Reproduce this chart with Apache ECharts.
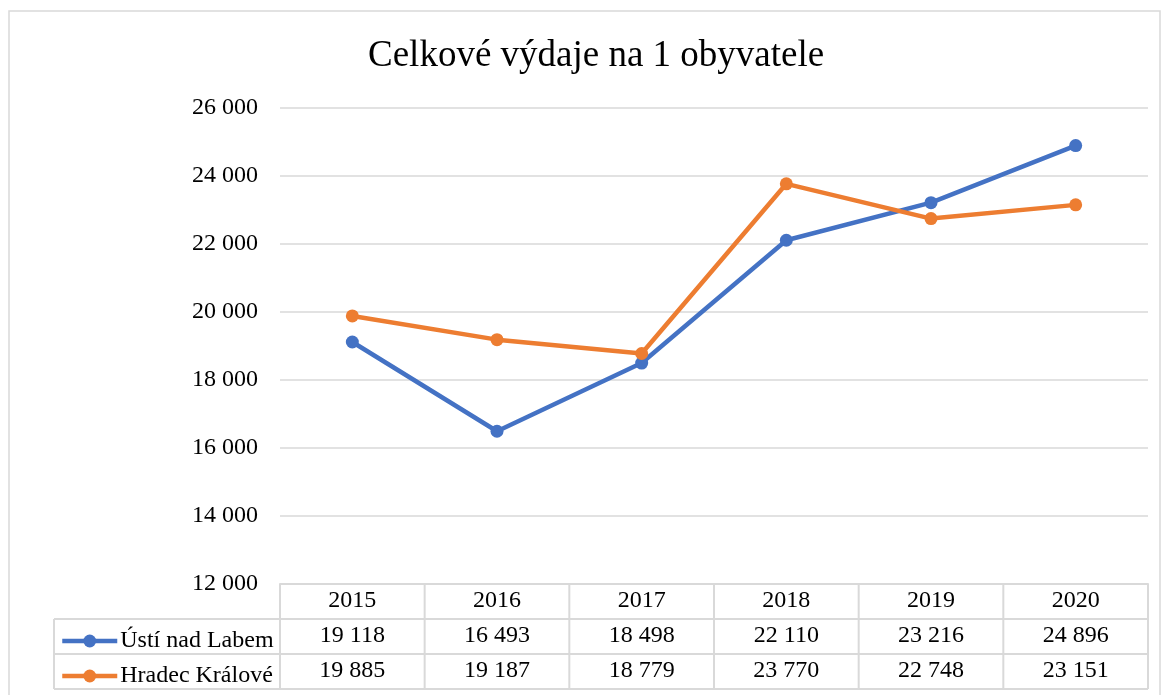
<!DOCTYPE html>
<html><head><meta charset="utf-8">
<script src="https://cdn.jsdelivr.net/npm/echarts@6/dist/echarts.min.js"></script>
<style>html,body{margin:0;padding:0;background:#fff}#c{width:1165px;height:695px}</style>
</head><body><div id="c"></div>
<script>
const title = 'Celkové výdaje na 1 obyvatele';
const years = ['2015','2016','2017','2018','2019','2020'];
const seriesNames = ['Ústí nad Labem','Hradec Králové'];
const usti = [19118,16493,18498,22110,23216,24896];
const hradec = [19885,19187,18779,23770,22748,23151];
const colors = ['#4472C4','#ED7D31'];

const FONT = '"Liberation Serif","Times New Roman",serif';
const FS = 24;
const fmt = v => String(v).replace(/\B(?=(\d{3})+(?!\d))/g, ' ');
const G = {left:280, right:17, top:108, bottom:111};
const gridLine = '#d9d9d9';

const chart = echarts.init(document.getElementById('c'));
const rowAxis = (offset, arr) => ({
  type:'category', data: years, position:'bottom', offset: offset,
  axisLine:{show:false}, axisTick:{show:false}, splitLine:{show:false},
  axisLabel:{fontFamily:FONT, fontSize:FS, color:'#000', margin:5,
    formatter:(v,i)=> arr ? fmt(arr[i]) : v}
});
chart.setOption({
  animation:false,
  backgroundColor:'#fff',
  title:{text:title, left:363, top:33,
    textStyle:{fontFamily:FONT, fontSize:37, fontWeight:'normal', color:'#000'}},
  grid:G,
  legend:{orient:'vertical', left:55, top:624, itemWidth:55, itemHeight:16, itemGap:11,
    data:seriesNames, lineStyle:{width:4.5},
    textStyle:{fontFamily:FONT, fontSize:FS, color:'#000', lineHeight:24, padding:[0,0,0,-2]}},
  xAxis:[
    Object.assign(rowAxis(0,null), {axisLine:{show:true, lineStyle:{color:gridLine, width:2}}}),
    rowAxis(35,usti),
    rowAxis(70,hradec)
  ],
  yAxis:{type:'value', min:12000, max:26000, interval:2000,
    axisLine:{show:false}, axisTick:{show:false},
    splitLine:{lineStyle:{color:gridLine, width:1.5}},
    axisLabel:{fontFamily:FONT, fontSize:FS, color:'#000', margin:22, formatter:fmt}},
  series:[
    {name:seriesNames[0], type:'line', data:usti, color:colors[0], symbol:'circle', symbolSize:13,
     lineStyle:{width:4.5}, itemStyle:{color:colors[0]}},
    {name:seriesNames[1], type:'line', data:hradec, color:colors[1], symbol:'circle', symbolSize:13,
     lineStyle:{width:4.5}, itemStyle:{color:colors[1]}}
  ]
});

// table lines & border
const W = 1165, H = 695;
const x0 = G.left, x1 = W - G.right, yAxisY = H - G.bottom;
const rowYs = [yAxisY, 619, 654, 689];
const tableLeft = 54;
const els = [];
const ls = {stroke:gridLine, lineWidth:2};
els.push({type:'rect', shape:{x:9, y:11, width:1151, height:690}, style:{fill:null, stroke:gridLine, lineWidth:1.5}, silent:true});
for (let r=1;r<rowYs.length;r++){
  els.push({type:'line', shape:{x1:tableLeft, y1:rowYs[r], x2:x1, y2:rowYs[r]}, style:ls, silent:true});
}
const cw = (x1-x0)/years.length;
for (let i=0;i<=years.length;i++){
  const x = x0 + i*cw;
  els.push({type:'line', shape:{x1:x, y1:yAxisY, x2:x, y2:rowYs[3]}, style:ls, silent:true});
}
els.push({type:'line', shape:{x1:tableLeft, y1:rowYs[1], x2:tableLeft, y2:rowYs[3]}, style:ls, silent:true});
chart.setOption({graphic:{elements:els}});
</script></body></html>
